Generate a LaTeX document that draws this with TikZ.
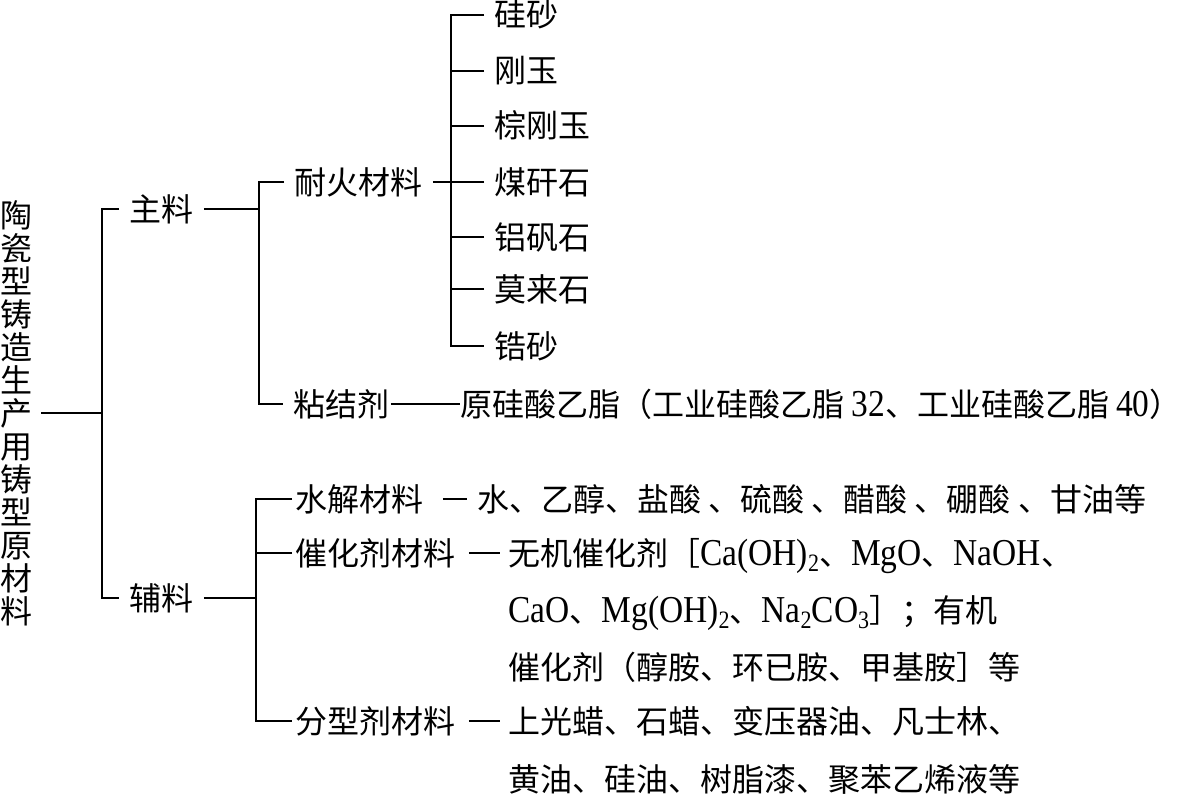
\documentclass[tikz,border=0pt]{standalone}
\usepackage{fontspec}
\setmainfont{Noto Sans CJK SC}
\newfontfamily\lat[FakeStretch=0.88]{Liberation Serif}
\newcommand{\la}[1]{{\lat\fontsize{19}{19}\selectfont #1}}
\newcommand{\subn}[1]{\raisebox{-3pt}{\lat\fontsize{12.5}{12.5}\selectfont #1}}
\usetikzlibrary{positioning}
\tikzset{
  lbl/.style={font=\fontsize{16}{16}\selectfont, anchor=west, inner xsep=5pt, inner ysep=0pt, text height=14pt, text depth=2pt},
  item/.style={lbl, inner xsep=1.5pt},
  txt/.style={lbl, inner xsep=0pt},
  ln/.style={line width=1.2pt},
  tie/.style={ln, shorten <=5pt, shorten >=4pt}}
\begin{document}
\begin{tikzpicture}[x=0.5pt, y=-0.5pt]
  \useasboundingbox (0,0) rectangle (1183,797);
  % root and first split
  \node[font=\fontsize{16}{16.5}\selectfont, align=center, text width=16pt, inner sep=4pt] (root) at (17,413)
    {陶\\瓷\\型\\铸\\造\\生\\产\\用\\铸\\型\\原\\材\\料};
  \node[lbl] (zl) at (119,209) {主料};
  \node[lbl] (fl) at (119,598) {辅料};
  \coordinate (j0) at (102,413);
  \draw[ln] (root.east) -- (j0);
  \draw[ln] (zl.west) -| (j0) |- (fl.west);
  % main materials
  \node[lbl] (nh) at (284,182) {耐火材料};
  \node[lbl] (nj) at (283,404) {粘结剂};
  \coordinate (j1) at (259,209);
  \draw[ln] (zl.east) -- (j1);
  \draw[ln] (nh.west) -| (j1) |- (nj.west);
  \coordinate (j2) at (451,182);
  \foreach \t/\y [count=\i] in {硅砂/15, 刚玉/71, 棕刚玉/126, 煤矸石/182, 铝矾石/237, 莫来石/289, 锆砂/346}
    \node[lbl] (r\i) at (484,\y) {\t};
  \draw[ln] (nh.east) -- (j2);
  \draw[ln] (r1.west) -| (j2) |- (r7.west);
  \foreach \i in {2,...,6} \draw[ln] (r\i.west) -- (r\i.west -| j2);
  \node[txt] (yg) at (460,404) {原硅酸乙脂（工业硅酸乙脂 \la{32}、工业硅酸乙脂 \la{40}）};
  \draw[ln, shorten <=-4.5pt] (nj.east) -- (yg.west);
  % auxiliary materials
  \coordinate (j3) at (256,598);
  \draw[ln] (fl.east) -- (j3);
  \node[item] (sj) at (292,499) {水解材料};
  \node[item] (ch) at (292,553) {催化剂材料};
  \node[item] (fx) at (292,721) {分型剂材料};
  \draw[ln] (sj.west) -| (j3) |- (fx.west);
  \draw[ln] (ch.west) -- (ch.west -| j3);
  \node[txt] (sj1) at (477,499) {水、乙醇、盐酸 、硫酸 、醋酸 、硼酸 、甘油等};
  \draw[tie, shorten <=8pt, shorten >=5pt] (sj.east) -- (sj1.west);
  \node[txt] (ch1) at (508,553) {无机催化剂［\la{Ca(OH)}\subn{2}、\la{MgO}、\la{NaOH}、};
  \node[txt] (ch2) at (508,610) {\la{CaO}、\la{Mg(OH)}\subn{2}、\la{Na}\subn{2}\la{CO}\subn{3}］；有机};
  \node[txt] (ch3) at (508,667) {催化剂（醇胺、环已胺、甲基胺］等};
  \draw[tie] (ch.east) -- (ch1.west);
  \node[txt] (fx1) at (508,721) {上光蜡、石蜡、变压器油、凡士林、};
  \node[txt] (fx2) at (508,779) {黄油、硅油、树脂漆、聚苯乙烯液等};
  \draw[tie] (fx.east) -- (fx1.west);
\end{tikzpicture}
\end{document}
